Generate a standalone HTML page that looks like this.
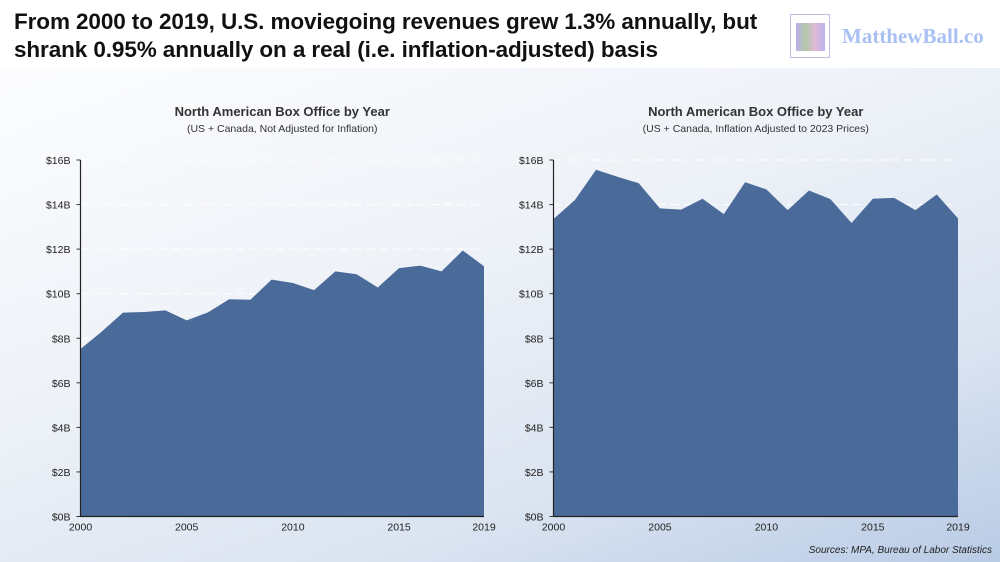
<!DOCTYPE html>
<html><head><meta charset="utf-8"><style>
html,body{margin:0;padding:0}
body{width:1000px;height:562px;overflow:hidden;position:relative;font-family:"Liberation Sans",sans-serif;background:linear-gradient(160deg,#ffffff 0%,#eef2f8 45%,#dbe4f1 75%,#b9cbe5 100%)}
#hdr{position:absolute;left:0;top:0;width:1000px;height:68px;background:#fff}
#title{position:absolute;left:14px;top:8px;font-size:22.5px;font-weight:bold;line-height:28px;color:#111;letter-spacing:-0.1px}
#logo{position:absolute;left:790px;top:14px;width:40px;height:44px}
#logotext{position:absolute;left:842px;top:24px;font-size:21px;font-family:"Liberation Serif",serif;font-weight:bold;color:#a9c0f3}
svg{position:absolute;left:0;top:0}
#src{position:absolute;right:8px;bottom:6px;font-size:10px;font-style:italic;color:#222}
</style></head><body>
<div id="hdr"></div>
<div id="title">From 2000 to 2019, U.S. moviegoing revenues grew 1.3% annually, but<br>shrank 0.95% annually on a real (i.e. inflation-adjusted) basis</div>
<div id="logo">
<div style="position:absolute;left:0;top:0;width:40px;height:44px;border:1px solid #c7b9e8;box-sizing:border-box"></div>
<div style="position:absolute;left:6px;top:9px;width:29px;height:28px;background:linear-gradient(90deg,#b8b0e8,#b4c9a8,#e0b8d8,#b9b4ee)"></div></div>
<div id="logotext">MatthewBall.co</div>
<svg id="chart" width="1000" height="562"></svg>
<div id="src">Sources: MPA, Bureau of Labor Statistics</div>
<script>
const years=[2000,2001,2002,2003,2004,2005,2006,2007,2008,2009,2010,2011,2012,2013,2014,2015,2016,2017,2018,2019];
const nominal=[7.52,8.3,9.15,9.18,9.25,8.8,9.16,9.75,9.73,10.63,10.48,10.16,11.0,10.87,10.28,11.15,11.26,11.0,11.94,11.23];
const real=[13.35,14.2,15.56,15.25,14.96,13.83,13.77,14.26,13.57,15.0,14.68,13.75,14.63,14.25,13.17,14.26,14.3,13.75,14.45,13.38];
const yTicks=[0,2,4,6,8,10,12,14,16];
const xTicks=[2000,2005,2010,2015,2019];
const svg=document.getElementById('chart');
const NS='http://www.w3.org/2000/svg';
function mk(t,a,p){const e=document.createElementNS(NS,t);for(const k in a)e.setAttribute(k,a[k]);(p||svg).appendChild(e);return e;}
function draw(x0,x1,vals,t1,t2,id){
  const y0=516.5,yTop=160;
  const X=v=>x0+(v-2000)/(2019-2000)*(x1-x0);
  const Y=v=>y0-v/16*(y0-yTop);
  const g=mk('g',{});
  
  
  const tt=mk('text',{x:(x0+x1)/2,y:116,'text-anchor':'middle','font-size':'13','font-weight':'bold',fill:'#333'},g);tt.textContent=t1;
  
  const st=mk('text',{x:(x0+x1)/2,y:132,'text-anchor':'middle','font-size':'10.5',fill:'#333'},g);st.textContent=t2;
  
  yTicks.forEach(v=>{
    if(v>0){const gl=mk('line',{x1:x0,x2:x1,y1:Y(v),y2:Y(v),stroke:'#fff','stroke-width':1,'stroke-dasharray':'8,5'},g);
    }
    mk('line',{x1:x0-4,x2:x0,y1:Y(v),y2:Y(v),stroke:'#333'},g);
    const l=mk('text',{x:x0-10,y:Y(v)+4,'text-anchor':'end','font-size':'10.5',fill:'#222'},g);l.textContent='$'+v+'B';
    
  });
  let d='M'+X(years[0])+','+Y(0);
  years.forEach((yr,i)=>{d+=' L'+X(yr)+','+Y(vals[i]);});
  d+=' L'+X(years[years.length-1])+','+Y(0)+' Z';
  const a=mk('path',{d:d,fill:'#4a6a9a'},g);
  
  mk('line',{x1:x0,x2:x0,y1:yTop,y2:y0,stroke:'#222','stroke-width':1.2},g);
  mk('line',{x1:x0,x2:x1,y1:y0,y2:y0,stroke:'#222','stroke-width':1.2},g);
  xTicks.forEach(v=>{
    const l=mk('text',{x:X(v),y:y0+14,'text-anchor':'middle','font-size':'10.5',fill:'#222'},g);l.textContent=v;
    
  });
}
draw(80.5,484,nominal,'North American Box Office by Year','(US + Canada, Not Adjusted for Inflation)','nominal');
draw(553.5,958,real,'North American Box Office by Year','(US + Canada, Inflation Adjusted to 2023 Prices)','real');
</script>
</body></html>
